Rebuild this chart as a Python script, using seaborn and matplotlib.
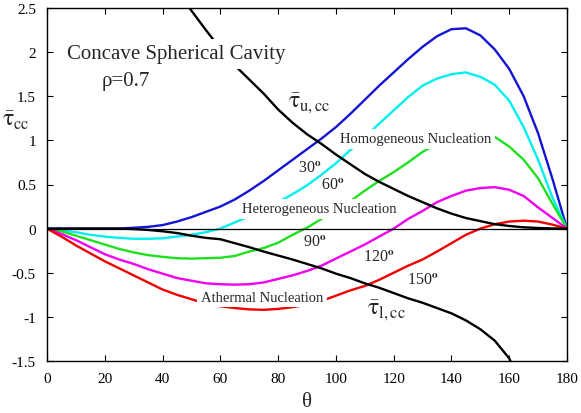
import pandas as pd
import matplotlib
matplotlib.use('Agg')
import matplotlib.pyplot as plt
import seaborn as sns

# contact angle curves, tau_cc vs theta (rho = 0.7)
theta = list(range(0, 181, 5))
tau_30 = [0, 0, 0, 0, 0, 0, 0.01, 0.02, 0.04, 0.08, 0.13, 0.19, 0.25, 0.33, 0.43, 0.54, 0.66, 0.78, 0.90,
          1.02, 1.15, 1.30, 1.46, 1.62, 1.77, 1.92, 2.06, 2.18, 2.26, 2.27, 2.19, 2.03, 1.81, 1.50, 1.08, 0.56, 0]
tau_60 = [0, -0.02, -0.04, -0.07, -0.09, -0.105, -0.115, -0.115, -0.11, -0.09, -0.07, -0.04, 0, 0.07, 0.14,
          0.22, 0.30, 0.39, 0.49, 0.61, 0.74, 0.89, 1.04, 1.19, 1.34, 1.49, 1.62, 1.70, 1.75, 1.77, 1.72,
          1.63, 1.45, 1.15, 0.78, 0.35, 0]
tau_90 = [0, -0.03, -0.08, -0.13, -0.18, -0.23, -0.27, -0.30, -0.32, -0.335, -0.34, -0.335, -0.33, -0.31,
          -0.26, -0.22, -0.16, -0.07, 0.01, 0.11, 0.21, 0.31, 0.43, 0.54, 0.64, 0.75, 0.87, 0.96, 1.02,
          1.06, 1.07, 1.04, 0.93, 0.78, 0.57, 0.28, 0]
tau_120 = [0, -0.06, -0.13, -0.21, -0.29, -0.35, -0.40, -0.46, -0.51, -0.56, -0.59, -0.62, -0.63, -0.635,
           -0.63, -0.61, -0.57, -0.53, -0.48, -0.42, -0.34, -0.26, -0.18, -0.09, 0, 0.11, 0.20, 0.30, 0.37,
           0.43, 0.46, 0.47, 0.44, 0.37, 0.24, 0.12, 0]
tau_150 = [0, -0.09, -0.19, -0.28, -0.37, -0.45, -0.53, -0.61, -0.69, -0.75, -0.80, -0.85, -0.88, -0.90,
           -0.915, -0.92, -0.91, -0.89, -0.86, -0.82, -0.76, -0.70, -0.65, -0.58, -0.50, -0.42, -0.35,
           -0.26, -0.165, -0.07, 0, 0.05, 0.08, 0.09, 0.08, 0.045, 0]

# upper / lower bounds
theta_u = list(range(45, 181, 5))
tau_u = [2.70, 2.47, 2.25, 2.04, 1.85, 1.69, 1.53, 1.35, 1.20, 1.07, 0.96, 0.84, 0.73, 0.62, 0.53, 0.45,
         0.37, 0.30, 0.23, 0.17, 0.12, 0.085, 0.05, 0.03, 0.015, 0.007, 0.002, 0]
theta_l = list(range(0, 166, 5))
tau_l = [0, 0, 0, 0, 0, 0, -0.005, -0.015, -0.03, -0.05, -0.08, -0.105, -0.12, -0.165, -0.21, -0.26,
         -0.305, -0.35, -0.40, -0.45, -0.51, -0.56, -0.62, -0.67, -0.73, -0.79, -0.84, -0.90, -0.96,
         -1.04, -1.14, -1.27, -1.47, -1.85]

angles = ['30', '60', '90', '120', '150']
colors = ['#1414d2', '#00f0f0', '#1ee01e', '#f000f0', '#f00000']
xticks = [0, 20, 40, 60, 80, 100, 120, 140, 160, 180]
yticks = [-1.5, -1, -0.5, 0, 0.5, 1, 1.5, 2, 2.5]
ytick_labels = ['-1.5', '-1', '-0.5', '0', '0.5', '1', '1.5', '2', '2.5']

sns.set_theme(style='ticks')
plt.rcParams['font.family'] = ['Liberation Serif', 'DejaVu Serif']
plt.rcParams['mathtext.fontset'] = 'stix'

fig = plt.figure(figsize=(5.81, 4.14), dpi=100)
ax = fig.add_axes([47/581, 1-362/414, 520/581, 353/414])

df = pd.concat([pd.DataFrame({'theta': theta, 'tau': t, 'angle': a})
                for a, t in zip(angles, [tau_30, tau_60, tau_90, tau_120, tau_150])])
sns.lineplot(data=df, x='theta', y='tau', hue='angle', palette=dict(zip(angles, colors)),
             estimator=None, sort=False, legend=False, lw=1.7, ax=ax)
sns.lineplot(x=theta_u, y=tau_u, color='black', lw=1.7, estimator=None, sort=False, ax=ax)
sns.lineplot(x=theta_l, y=tau_l, color='black', lw=1.7, estimator=None, sort=False, ax=ax)
ax.axhline(0, color='black', lw=0.9)

ax.set_xlim(0, 180)
ax.set_ylim(-1.5, 2.5)
ax.set_xticks(xticks)
ax.set_yticks(yticks)
ax.set_yticklabels(ytick_labels)
ax.set_xlabel('')
ax.set_ylabel('')
ax.tick_params(direction='in', top=True, right=True, length=4, width=0.8, labelsize=11,
               colors='black', pad=8)
for s in ax.spines.values():
    s.set_color('black')
    s.set_linewidth(1.0)

box = dict(facecolor='white', edgecolor='none', boxstyle='square,pad=0.25')
ax.text(6.9, 1.93, 'Concave Spherical Cavity', fontsize=15, va='baseline', bbox=box, zorder=5)
ax.text(18.9, 1.627, 'ρ=0.7', fontsize=15, va='baseline', zorder=5)
ax.text(101.4, 0.978, 'Homogeneous Nucleation', fontsize=10.5, va='baseline', bbox=box, zorder=5)
ax.text(67.5, 0.185, 'Heterogeneous Nucleation', fontsize=10.5, va='baseline', bbox=box, zorder=5)
ax.text(53.2, -0.817, 'Athermal Nucleation', fontsize=10.5, va='baseline', bbox=box, zorder=5)

deg_pos = [(86.9, 0.638), (94.8, 0.449), (88.6, -0.194), (109.4, -0.364), (124.6, -0.628)]
for a, (x, y) in zip(angles, deg_pos):
    ax.text(x, y, a + r'$^{\mathbf{o}}$', fontsize=11.5, va='baseline', zorder=5)

ax.text(83.4, 1.375, r'$\bar{\mathrm{\tau}}_{\mathrm{u,cc}}$', fontsize=17, va='baseline', zorder=5)
ax.text(110.8, -0.968, r'$\bar{\mathrm{\tau}}_{\mathrm{l,cc}}$', fontsize=17, va='baseline', zorder=5)

fig.text(2/581, 1-126.7/414, r'$\bar{\mathrm{\tau}}_{\mathrm{cc}}$', fontsize=17, va='baseline')
fig.text(307/581, 1-407/414, 'θ', fontsize=15, ha='center', va='baseline')

fig.savefig('out.png', dpi=100)
